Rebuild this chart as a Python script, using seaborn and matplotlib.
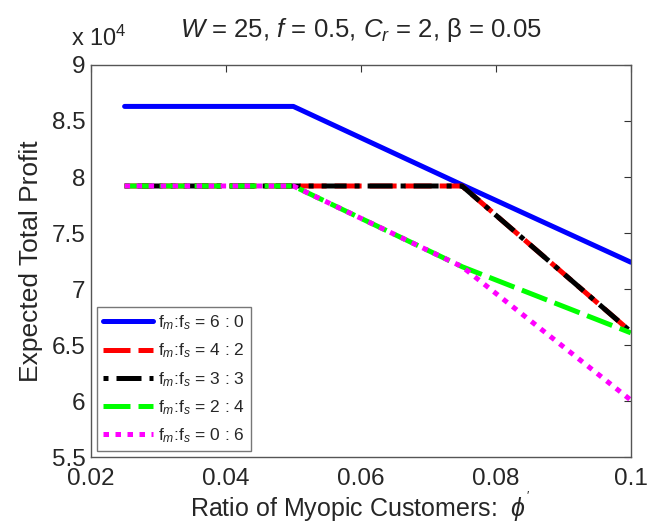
import matplotlib
matplotlib.use("Agg")
import matplotlib.pyplot as plt
import pandas as pd
import seaborn as sns

# data
phi = [0.025, 0.05, 0.075, 0.1]
profit_60 = [86300, 86300, 79300, 72400]
profit_42 = [79200, 79200, 79200, 66200]
profit_33 = [79200, 79200, 79200, 66200]
profit_24 = [79200, 79200, 72000, 66100]
profit_06 = [79200, 79200, 72000, 60100]
series_names = ["6 : 0", "4 : 2", "3 : 3", "2 : 4", "0 : 6"]
x_ticks = [0.02, 0.04, 0.06, 0.08, 0.1]
y_ticks = [55000, 60000, 65000, 70000, 75000, 80000, 85000, 90000]

rows = []
for name, vals in zip(series_names, [profit_60, profit_42, profit_33, profit_24, profit_06]):
    for x, y in zip(phi, vals):
        rows.append({"phi": x, "profit": y, "ratio": "f$_m$:f$_s$ = " + name})
df = pd.DataFrame(rows)

sns.set_style("white")
plt.rcParams["font.family"] = ["Liberation Sans", "DejaVu Sans"]
plt.rcParams["mathtext.fontset"] = "custom"
plt.rcParams["mathtext.rm"] = "Liberation Sans"
plt.rcParams["mathtext.it"] = "Liberation Sans:italic"

labels = ["f$_m$:f$_s$ = " + n for n in series_names]
palette = dict(zip(labels, ["#0000ff", "#ff0000", "#000000", "#00ff00", "#ff00ff"]))
dashes = dict(zip(labels, ["", (5.4, 1.6), (1, 1.6, 5, 1.6), (5.4, 1.6), (1.1, 1.3)]))

fig = plt.figure(figsize=(6.49, 5.28), dpi=100)
ax = fig.add_axes([0.140, 0.134, 0.832, 0.743])
sns.lineplot(data=df, x="phi", y="profit", hue="ratio", style="ratio",
             palette=palette, dashes=dashes, linewidth=3.6, ax=ax, legend=False)

ax.set_xlim(0.02, 0.1)
ax.set_ylim(55000, 90000)
ax.set_xticks(x_ticks)
ax.set_xticklabels(["%g" % t for t in x_ticks])
ax.set_yticks(y_ticks)
ax.set_yticklabels(["%g" % (t / 1e4) for t in y_ticks])
ax.tick_params(direction="in", length=5, width=0.8, labelsize=17.5, color="#333333",
               top=True, right=True)
ax.tick_params(axis="x", pad=8)
ax.tick_params(axis="y", pad=4)
for s in ax.spines.values():
    s.set_color("#555555")
    s.set_linewidth(1.0)

ax.text(-0.036, 1.035, "x 10$^4$", transform=ax.transAxes, fontsize=17, ha="left", va="bottom")
ax.set_title("$W$ = 25, $f$ = 0.5, $C_r$ = 2, \u03b2 = 0.05", fontsize=18.5, pad=20)
ax.set_xlabel("Ratio of Myopic Customers:  $\\phi^{'}$", fontsize=18, labelpad=-1)
ax.set_ylabel("Expected Total Profit", fontsize=19, labelpad=6)

handles = []
for lab in labels:
    h, = ax.plot([], [], color=palette[lab], linewidth=3.6)
    if dashes[lab]:
        h.set_dashes(dashes[lab])
    handles.append(h)
leg = ax.legend(handles, labels, loc="lower left", fontsize=12.5, frameon=True, fancybox=False,
                handlelength=2.9, borderaxespad=0.35, labelspacing=0.55, handletextpad=0.25,
                borderpad=0.35)
leg.get_frame().set_edgecolor("#555555")
leg.get_frame().set_linewidth(1.0)

fig.savefig("out.png", dpi=100)
